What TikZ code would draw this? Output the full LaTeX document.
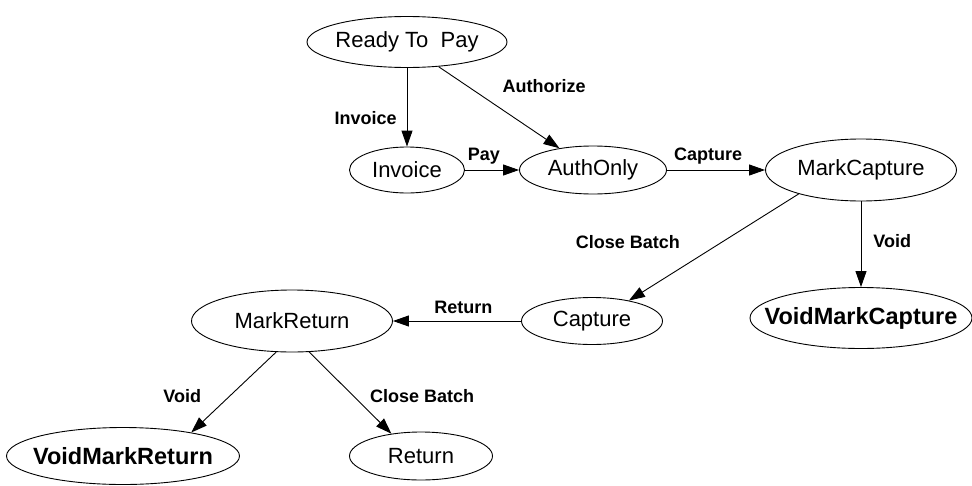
\documentclass[tikz,border=0pt]{standalone}
\usepackage{fontspec}
\setmainfont{Liberation Sans}
\usetikzlibrary{positioning,arrows.meta,shapes.geometric}
\tikzset{
  pgestado/.style={draw, ellipse, inner sep=0pt, line width=0.9pt,
                   font=\fontsize{22}{26}\selectfont,
                   execute at begin node={\hbox to 0pt\bgroup\hss},
                   execute at end node={\hss\egroup}},
  pgfinal/.style={pgestado, font=\fontsize{23.5}{27}\selectfont\bfseries},
  pgrotulo/.style={font=\fontsize{18}{22}\selectfont\bfseries, inner sep=2pt},
  pgseta/.style={-{Triangle[length=16pt,width=11pt]}, line width=0.9pt},
}
\begin{document}
\begin{tikzpicture}[x=1pt,y=-1pt]
        \useasboundingbox (0,0) rectangle (972,485);
        \node[pgestado, minimum width=200pt, minimum height=51pt] (rtp) at (407,42) {Ready To\ \ Pay};
        \node[pgestado, minimum width=115pt, minimum height=46pt] (inv) at (407,170) {Invoice};
        \node[pgestado, minimum width=147pt, minimum height=48pt] (auth) at (593,170) {AuthOnly};
        \node[pgestado, minimum width=191pt, minimum height=62pt] (mc) at (861,170) {MarkCapture};
        \node[pgfinal, minimum width=222pt, minimum height=61pt] (vmc) at (861,318) {VoidMarkCapture};
        \node[pgestado, minimum width=141pt, minimum height=47pt] (cap) at (592,321) {Capture};
        \node[pgestado, minimum width=201pt, minimum height=62pt] (mr) at (292,321) {MarkReturn};
        \node[pgestado, minimum width=143pt, minimum height=48pt] (ret) at (421,456) {Return};
        \node[pgfinal, minimum width=233pt, minimum height=57pt] (vmr) at (123,456) {VoidMarkReturn};
        \draw[pgseta] (rtp) -- node[pgrotulo, pos=0.635, left=8pt] (linv) {Invoice} (inv);
        \draw[pgseta] (rtp.322) -- node[pgrotulo, pos=0.51, above right=13pt and 0pt] (lauth) {Authorize} (auth.147);
        \draw[pgseta] (inv) -- node[pgrotulo, pos=0.35, above=3pt] (lpay) {Pay} (auth);
        \draw[pgseta] (auth) -- node[pgrotulo, pos=0.42, above=3pt] (lcap) {Capture} (mc);
        \draw[pgseta] (mc.201) -- node[pgrotulo, pos=0.45, left=40pt] (lcb1) {Close Batch} (cap.29);
        \draw[pgseta] (mc) -- node[pgrotulo, pos=0.46, right=10pt] (lv1) {Void} (vmc);
        \draw[pgseta] (cap) -- node[pgrotulo, pos=0.45, above=5pt] (lret) {Return} (mr);
        \draw[pgseta] (mr.243) -- node[pgrotulo, pos=0.55, left=26pt] (lv2) {Void} (vmr.19);
        \draw[pgseta] (mr.299) -- node[pgrotulo, pos=0.54, right=14pt] (lcb2) {Close Batch} (ret.143);
    \end{tikzpicture}
\end{document}
